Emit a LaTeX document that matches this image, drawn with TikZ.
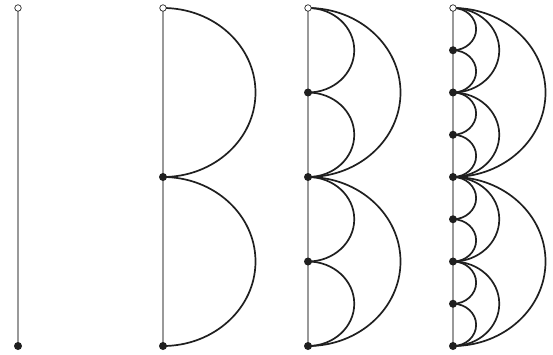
\documentclass[tikz,border=0pt]{standalone}
\begin{document}
\begin{tikzpicture}[x=1pt,y=1pt,
  axisline/.style={draw=black!40, line width=1.4pt},
  bow/.style={draw=black!88, line width=1.7pt},
  opendot/.style={circle, draw=black!85, fill=white, line width=0.7pt, minimum size=6.5pt, inner sep=0pt},
  fulldot/.style={circle, fill=black!88, minimum size=8pt, inner sep=0pt}]
\useasboundingbox (0,0) rectangle (553,354);
% coordinates along each axis
\foreach \d in {0,...,3} {
  \pgfmathsetmacro\xx{18+145*\d}
  \foreach \j in {0,...,8} {
    \coordinate (p\d-\j) at (\xx, 346-\j*42.25);
  }
}
% vertical lines
\foreach \d in {0,...,3} {
  \draw[axisline] (p\d-0) -- (p\d-8);
}
% arcs
\foreach \d in {1,2,3} {
  \foreach \l in {1,...,\d} {
    \pgfmathtruncatemacro\n{2^\l}
    \pgfmathtruncatemacro\st{8/\n}
    \pgfmathtruncatemacro\last{\n-1}
    \foreach \k in {0,...,\last} {
      \pgfmathtruncatemacro\i{\k*\st}
      \draw[bow] (p\d-\i) arc[start angle=90, end angle=-90, x radius=185/\n, y radius=169/\n];
    }
  }
}
% dots
\foreach \d in {0,...,3} {
  \node[opendot] (o\d) at (p\d-0) {};
  \pgfmathtruncatemacro\n{2^\d}
  \pgfmathtruncatemacro\st{8/\n}
  \foreach \k in {1,...,\n} {
    \pgfmathtruncatemacro\i{\k*\st}
    \node[fulldot] (v\d-\i) at (p\d-\i) {};
  }
}
\end{tikzpicture}
\end{document}
